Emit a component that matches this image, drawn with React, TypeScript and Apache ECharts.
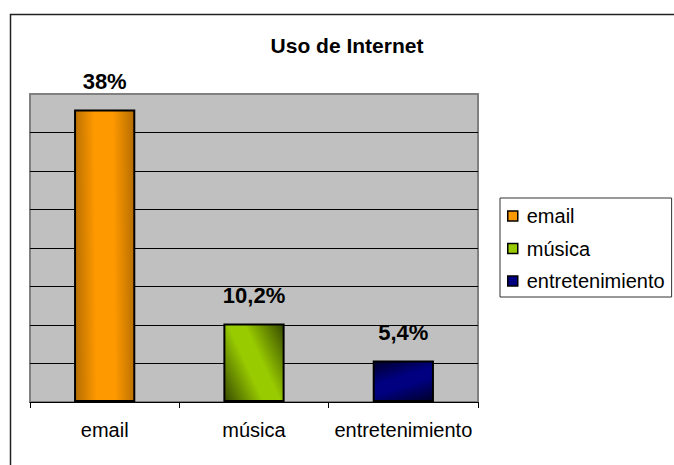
import React, { useEffect, useRef } from 'react';
import * as echarts from 'echarts';

const title = 'Uso de Internet';
const categories = ['email', 'música', 'entretenimiento'];
const values = [38, 10.2, 5.4];
const baseColors = ['#FF9900', '#99CC00', '#000080'];
const darkColors = ['#5a3700', '#2f3f00', '#00001c'];
const flipGradient = [false, false, true];
const yMin = 0;
const yMax = 40;
const yInterval = 5;

const PLOT_H = 308;
const BAR_W = 61;
const FONT = '"Liberation Sans", Arial, sans-serif';

function diagGradient(value: number, base: string, dark: string, flip: boolean) {
  const h = (value / (yMax - yMin)) * PLOT_H;
  const r = h / BAR_W;
  const a = (r * r) / (1 + r * r);
  const b = 1 / (1 + r * r);
  const coords = flip
    ? [0.5 - a, 0.5 - b, 0.5 + a, 0.5 + b]
    : [0.5 - a, 0.5 + b, 0.5 + a, 0.5 - b];
  return {
    type: 'linear',
    x: coords[0],
    y: coords[1],
    x2: coords[2],
    y2: coords[3],
    colorStops: [
      { offset: 0, color: dark },
      { offset: 0.42, color: base },
      { offset: 0.58, color: base },
      { offset: 1, color: dark },
    ],
  };
}

export default function App() {
  const ref = useRef<HTMLDivElement>(null);
  useEffect(() => {
    if (!ref.current) return;
    const chart = echarts.init(ref.current, null, { renderer: 'svg' });
    const series = categories.map((name, i) => ({
      name,
      type: 'bar',
      stack: 'all',
      barWidth: '41%',
      data: categories.map((_, j) => (j === i ? values[i] : '-')),
      itemStyle: {
        color: diagGradient(values[i], baseColors[i], darkColors[i], flipGradient[i]),
        borderColor: '#000',
        borderWidth: 2,
      },
      label: {
        show: true,
        position: 'top',
        distance: 17,
        fontFamily: FONT,
        fontSize: 22,
        fontWeight: 'bold',
        color: '#000',
        formatter: (p: any) => String(p.value).replace('.', ',') + '%',
      },
    }));
    chart.setOption({
      animation: false,
      backgroundColor: '#fff',
      title: {
        text: title,
        left: 342,
        top: 30,
        textAlign: 'center',
        textStyle: { fontFamily: FONT, fontSize: 21, fontWeight: 'bold', color: '#000' },
      },
      graphic: [
        {
          type: 'rect',
          shape: { x: 10.5, y: 14.5, width: 720, height: 520 },
          style: { fill: 'none', stroke: '#222', lineWidth: 1.5 },
          silent: true,
          z: 100,
        },
      ],
      legend: {
        orient: 'vertical',
        left: 500,
        top: 198,
        padding: [8, 7, 6, 7],
        itemGap: 12.5,
        itemWidth: 10,
        itemHeight: 10,
        icon: 'rect',
        borderColor: '#333',
        borderWidth: 1,
        backgroundColor: '#fff',
        textStyle: { fontFamily: FONT, fontSize: 20, color: '#000', lineHeight: 20, padding: [0, 0, 0, 4] },
        itemStyle: { borderColor: '#000', borderWidth: 1.5 },
        data: categories.map((name, i) => ({
          name,
          itemStyle: { color: baseColors[i], borderColor: '#000', borderWidth: 1.5 },
        })),
      },
      grid: {
        left: 30,
        right: 196,
        top: 94,
        bottom: 63,
        show: true,
        backgroundColor: '#C0C0C0',
        borderColor: '#808080',
        borderWidth: 2,
      },
      xAxis: {
        type: 'category',
        data: categories,
        axisLine: { show: true, lineStyle: { color: '#000', width: 1 } },
        axisTick: { show: true, length: 6, lineStyle: { color: '#000' } },
        axisLabel: { interval: 0, fontFamily: FONT, fontSize: 20, color: '#000', margin: 18 },
      },
      yAxis: {
        type: 'value',
        min: yMin,
        max: yMax,
        interval: yInterval,
        axisLine: { show: false },
        axisTick: { show: false },
        axisLabel: { show: false },
        splitLine: { show: true, showMaxLine: false, showMinLine: false, lineStyle: { color: '#000', width: 1 } },
      },
      series,
    });
    return () => chart.dispose();
  }, []);
  return (
    <div
      ref={ref}
      style={{ position: 'fixed', left: 0, top: 0, width: 674, height: 465 }}
    />
  );
}
